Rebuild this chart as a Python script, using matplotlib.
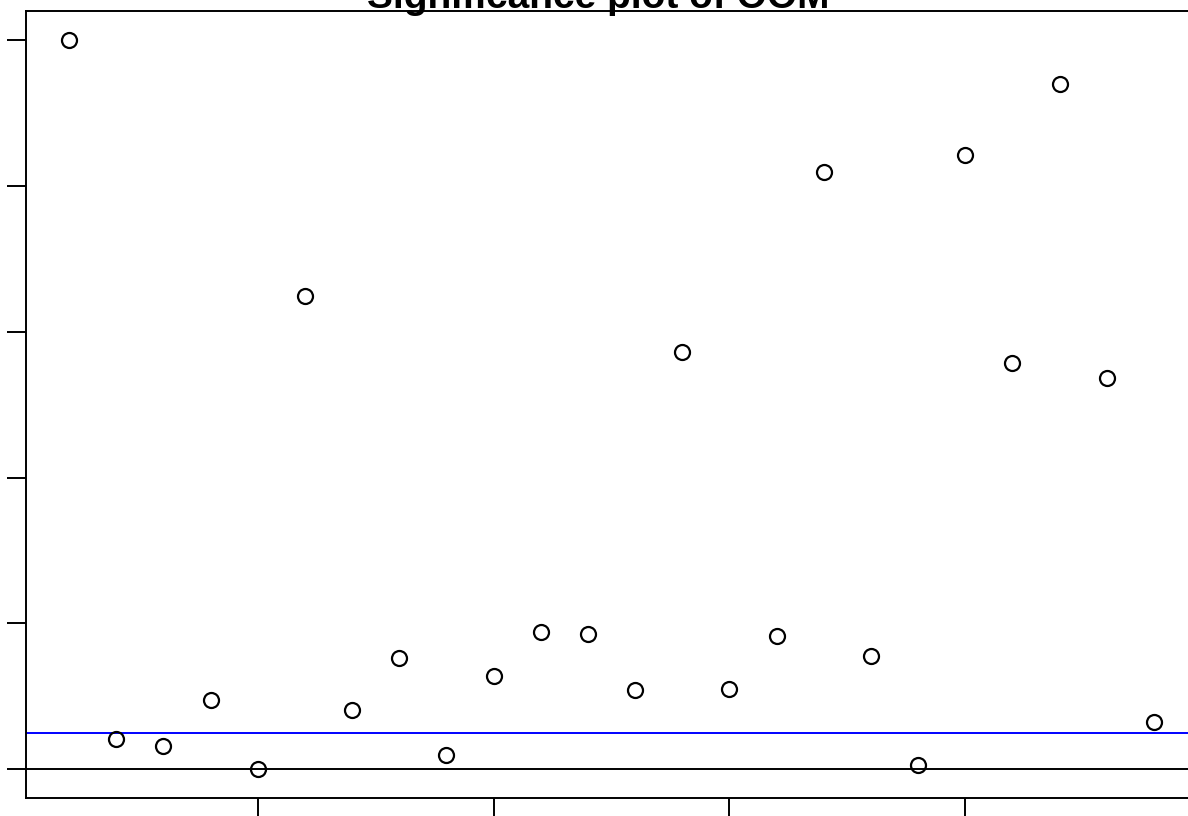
import matplotlib
matplotlib.use("Agg")
import matplotlib.pyplot as plt
import numpy as np

plt.rcParams['font.family'] = ['Liberation Sans', 'DejaVu Sans']

# significance values per index
index = np.arange(1, 25)
significance = [5.00, 0.206, 0.162, 0.473, 0.00, 3.247, 0.405, 0.764,
                0.098, 0.642, 0.940, 0.930, 0.546, 2.858, 0.549, 0.912,
                4.098, 0.779, 0.025, 4.214, 2.785, 4.702, 2.682, 0.320]
threshold = 0.251
baseline = 0.0
x_ticks = [5, 10, 15, 20]
y_ticks = [0, 1, 2, 3, 4, 5]

W, H, DPI = 1188, 816, 100
fig = plt.figure(figsize=(W / DPI, H / DPI), dpi=DPI, facecolor='white')

# plot region in pixels (R-style layout, right side runs past the edge)
left, right, top, bottom = 25.6, 1197.4, 11.0, 798.3
ax = fig.add_axes([left / W, (H - bottom) / H, (right - left) / W, (bottom - top) / H])

ax.plot(index, significance, 'o', markersize=10.8, markerfacecolor='none',
        markeredgecolor='black', markeredgewidth=1.6, zorder=3)
ax.axhline(baseline, color='black', linewidth=1.4, zorder=2)
ax.axhline(threshold, color='#0000FF', linewidth=1.4, zorder=2)

# R pads the data range by 4% on each side
xpad = (index.max() - index.min()) * 0.04
ypad = (max(significance) - min(significance)) * 0.04
ax.set_xlim(index.min() - xpad, index.max() + xpad)
ax.set_ylim(min(significance) - ypad, max(significance) + ypad)

ax.set_xticks(x_ticks)
ax.set_yticks(y_ticks)
ax.tick_params(direction='out', length=13.7, width=1.4, color='black',
               labelbottom=False, labelleft=False)
for side in ['left', 'top', 'bottom', 'right']:
    ax.spines[side].set_linewidth(1.4)
    ax.spines[side].set_color('black')

fig.text(598 / W, (H - 7.5) / H, 'Significance plot of OOM', ha='center',
         va='baseline', fontsize=28, fontweight='bold')

fig.savefig('out.png', dpi=DPI, facecolor='white')
